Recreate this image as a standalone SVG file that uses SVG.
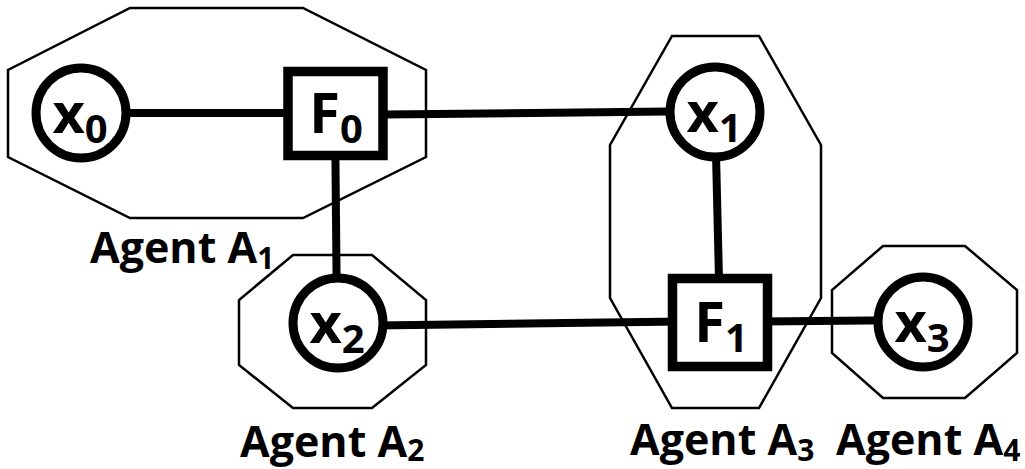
<svg xmlns="http://www.w3.org/2000/svg" width="1025" height="469" viewBox="0 0 1025 469">
  <style>
    .agent { fill: none; stroke: #000; stroke-width: 2.5; stroke-linejoin: miter; }
    .edge { stroke: #000; stroke-width: 8; stroke-linecap: butt; }
    .var { fill: #fff; stroke: #000; stroke-width: 9; }
    .fac { fill: #fff; stroke: #000; stroke-width: 9.5; }
    .lbl { font-family: "Open Sans", "Liberation Sans", sans-serif; font-weight: 700; fill: #000; }
    .node-txt { font-size: 56px; text-anchor: middle; }
    .sub { font-size: 40px; }
    .agent-txt { font-size: 43px; }
    .agent-sub { font-size: 30px; }
  </style>

  <!-- agent boundaries -->
  <g id="agents">
    <polygon id="agent-a1" class="agent" points="130,8 303,8 426,70 426,157 303,218 130,218 8,157 8,70"/>
    <polygon id="agent-a2" class="agent" points="293,255 372,255 426,300 426,365 372,408 293,408 239,365 239,300"/>
    <polygon id="agent-a3" class="agent" points="672,36 759,36 821,145 821,298 759,408 672,408 610,298 610,145"/>
    <polygon id="agent-a4" class="agent" points="883,246 965,246 1017,290 1017,353 965,398 883,398 832,353 832,290"/>
  </g>

  <!-- connectors -->
  <g id="edges">
    <line class="edge" x1="81" y1="113" x2="335" y2="113"/>
    <line class="edge" x1="335" y1="115" x2="715" y2="111"/>
    <line class="edge" x1="335" y1="112" x2="337" y2="323"/>
    <line class="edge" x1="715" y1="112" x2="720" y2="322"/>
    <line class="edge" x1="338" y1="326" x2="720" y2="321"/>
    <line class="edge" x1="720" y1="322" x2="923" y2="320"/>
  </g>

  <!-- variable nodes -->
  <g id="x0">
    <circle class="var" cx="81" cy="113" r="45"/>
    <text class="lbl node-txt" x="80" y="133">x<tspan class="sub" dy="10">0</tspan></text>
  </g>
  <g id="x1">
    <circle class="var" cx="715" cy="112" r="45"/>
    <text class="lbl node-txt" x="714" y="132">x<tspan class="sub" dy="10">1</tspan></text>
  </g>
  <g id="x2">
    <circle class="var" cx="338" cy="323" r="45"/>
    <text class="lbl node-txt" x="337" y="343">x<tspan class="sub" dy="10">2</tspan></text>
  </g>
  <g id="x3">
    <circle class="var" cx="923" cy="322" r="45"/>
    <text class="lbl node-txt" x="922" y="342">x<tspan class="sub" dy="10">3</tspan></text>
  </g>

  <!-- factor nodes -->
  <g id="F0">
    <rect class="fac" x="288" y="71.5" width="95" height="84"/>
    <text class="lbl node-txt" x="336" y="133">F<tspan class="sub" dy="10">0</tspan></text>
  </g>
  <g id="F1">
    <rect class="fac" x="672.5" y="278.5" width="95" height="88"/>
    <text class="lbl node-txt" x="721" y="342">F<tspan class="sub" dy="10">1</tspan></text>
  </g>

  <!-- agent labels -->
  <g id="labels">
    <text class="lbl agent-txt" x="90" y="263">Agent A<tspan class="agent-sub" dy="6">1</tspan></text>
    <text class="lbl agent-txt" x="240" y="457">Agent A<tspan class="agent-sub" dy="4">2</tspan></text>
    <text class="lbl agent-txt" x="630" y="455">Agent A<tspan class="agent-sub" dy="6">3</tspan></text>
    <text class="lbl agent-txt" x="836" y="455">Agent A<tspan class="agent-sub" dy="6">4</tspan></text>
  </g>
</svg>
